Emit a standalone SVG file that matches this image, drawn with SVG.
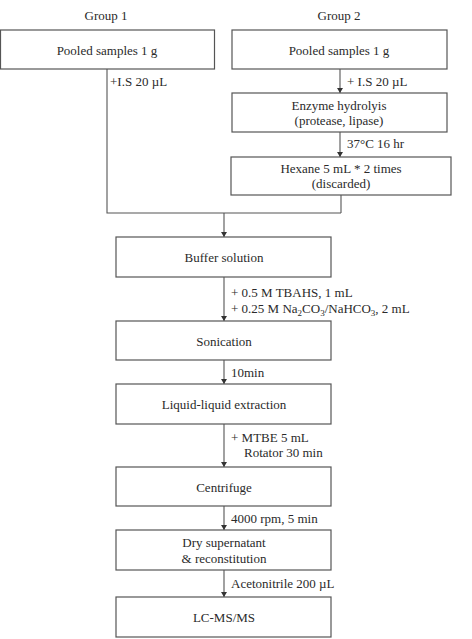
<svg xmlns="http://www.w3.org/2000/svg" width="472" height="639" viewBox="0 0 472 639">
<defs>
<marker id="ah" markerWidth="6" markerHeight="6" refX="5" refY="3" orient="auto" markerUnits="userSpaceOnUse">
<path d="M0,0 L5,3 L0,6 Z" fill="#333"/>
</marker>
<style>
rect{fill:#fff;stroke:#555;stroke-width:1.2}
text{font-family:"Liberation Serif","Times New Roman",serif;font-size:13px;fill:#2a2a2a}
.c{text-anchor:middle}
.ln{fill:none;stroke:#555;stroke-width:1.1}
</style>
</defs>
<rect x="0" y="0" width="472" height="639" style="fill:#fff;stroke:none"/>
<text class="c" x="106" y="20">Group 1</text>
<text class="c" x="339" y="20">Group 2</text>
<g id="connectors">
<polyline class="ln" points="107,69 107,213 341,213"/>
<line class="ln" x1="341" y1="195" x2="341" y2="213"/>
<line class="ln" x1="224" y1="213" x2="224" y2="237" marker-end="url(#ah)"/>
<line class="ln" x1="340" y1="69" x2="340" y2="93" marker-end="url(#ah)"/>
<line class="ln" x1="340" y1="132" x2="340" y2="157" marker-end="url(#ah)"/>
<line class="ln" x1="224" y1="277" x2="224" y2="321" marker-end="url(#ah)"/>
<line class="ln" x1="224" y1="360" x2="224" y2="384" marker-end="url(#ah)"/>
<line class="ln" x1="224" y1="424" x2="224" y2="467" marker-end="url(#ah)"/>
<line class="ln" x1="224" y1="506" x2="224" y2="530" marker-end="url(#ah)"/>
<line class="ln" x1="224" y1="570" x2="224" y2="597" marker-end="url(#ah)"/>
<text x="110" y="86">+I.S 20 µL</text>
<text x="347" y="86">+ I.S 20 µL</text>
<text x="347" y="148">37°C 16 hr</text>
<text x="231" y="297">+ 0.5 M TBAHS, 1 mL</text>
<text x="231" y="313">+ 0.25 M Na<tspan font-size="9" dy="3">2</tspan><tspan dy="-3">CO</tspan><tspan font-size="9" dy="3">3</tspan><tspan dy="-3">/NaHCO</tspan><tspan font-size="9" dy="3">3</tspan><tspan dy="-3">, 2 mL</tspan></text>
<text x="231" y="377">10min</text>
<text x="231" y="442">+  MTBE 5 mL</text>
<text x="244" y="457">Rotator 30 min</text>
<text x="231" y="523">4000 rpm, 5 min</text>
<text x="231" y="588">Acetonitrile 200 µL</text>
</g>
<g id="g1-pooled"><rect x="0.5" y="30" width="214" height="39"/><text class="c" x="107" y="55">Pooled samples 1 g</text></g>
<g id="g2-pooled"><rect x="232" y="30" width="215" height="39"/><text class="c" x="339" y="55">Pooled samples 1 g</text></g>
<g id="enzyme"><rect x="232" y="93" width="215" height="39"/><text class="c" x="339" y="110">Enzyme hydrolyis</text><text class="c" x="339" y="125">(protease, lipase)</text></g>
<g id="hexane"><rect x="231" y="157" width="220" height="38"/><text class="c" x="341" y="173">Hexane 5 mL * 2 times</text><text class="c" x="341" y="188">(discarded)</text></g>
<g id="buffer"><rect x="116" y="237" width="215" height="40"/><text class="c" x="224" y="262">Buffer solution</text></g>
<g id="sonication"><rect x="116" y="321" width="215" height="39"/><text class="c" x="224" y="346">Sonication</text></g>
<g id="lle"><rect x="116" y="384" width="215" height="40"/><text class="c" x="224" y="409">Liquid-liquid extraction</text></g>
<g id="centrifuge"><rect x="116" y="467" width="215" height="39"/><text class="c" x="224" y="492">Centrifuge</text></g>
<g id="dry"><rect x="116" y="530" width="215" height="40"/><text class="c" x="224" y="547">Dry supernatant</text><text class="c" x="224" y="563">&amp; reconstitution</text></g>
<g id="lcms"><rect x="116" y="597" width="215" height="40"/><text class="c" x="224" y="622">LC-MS/MS</text></g>
</svg>
